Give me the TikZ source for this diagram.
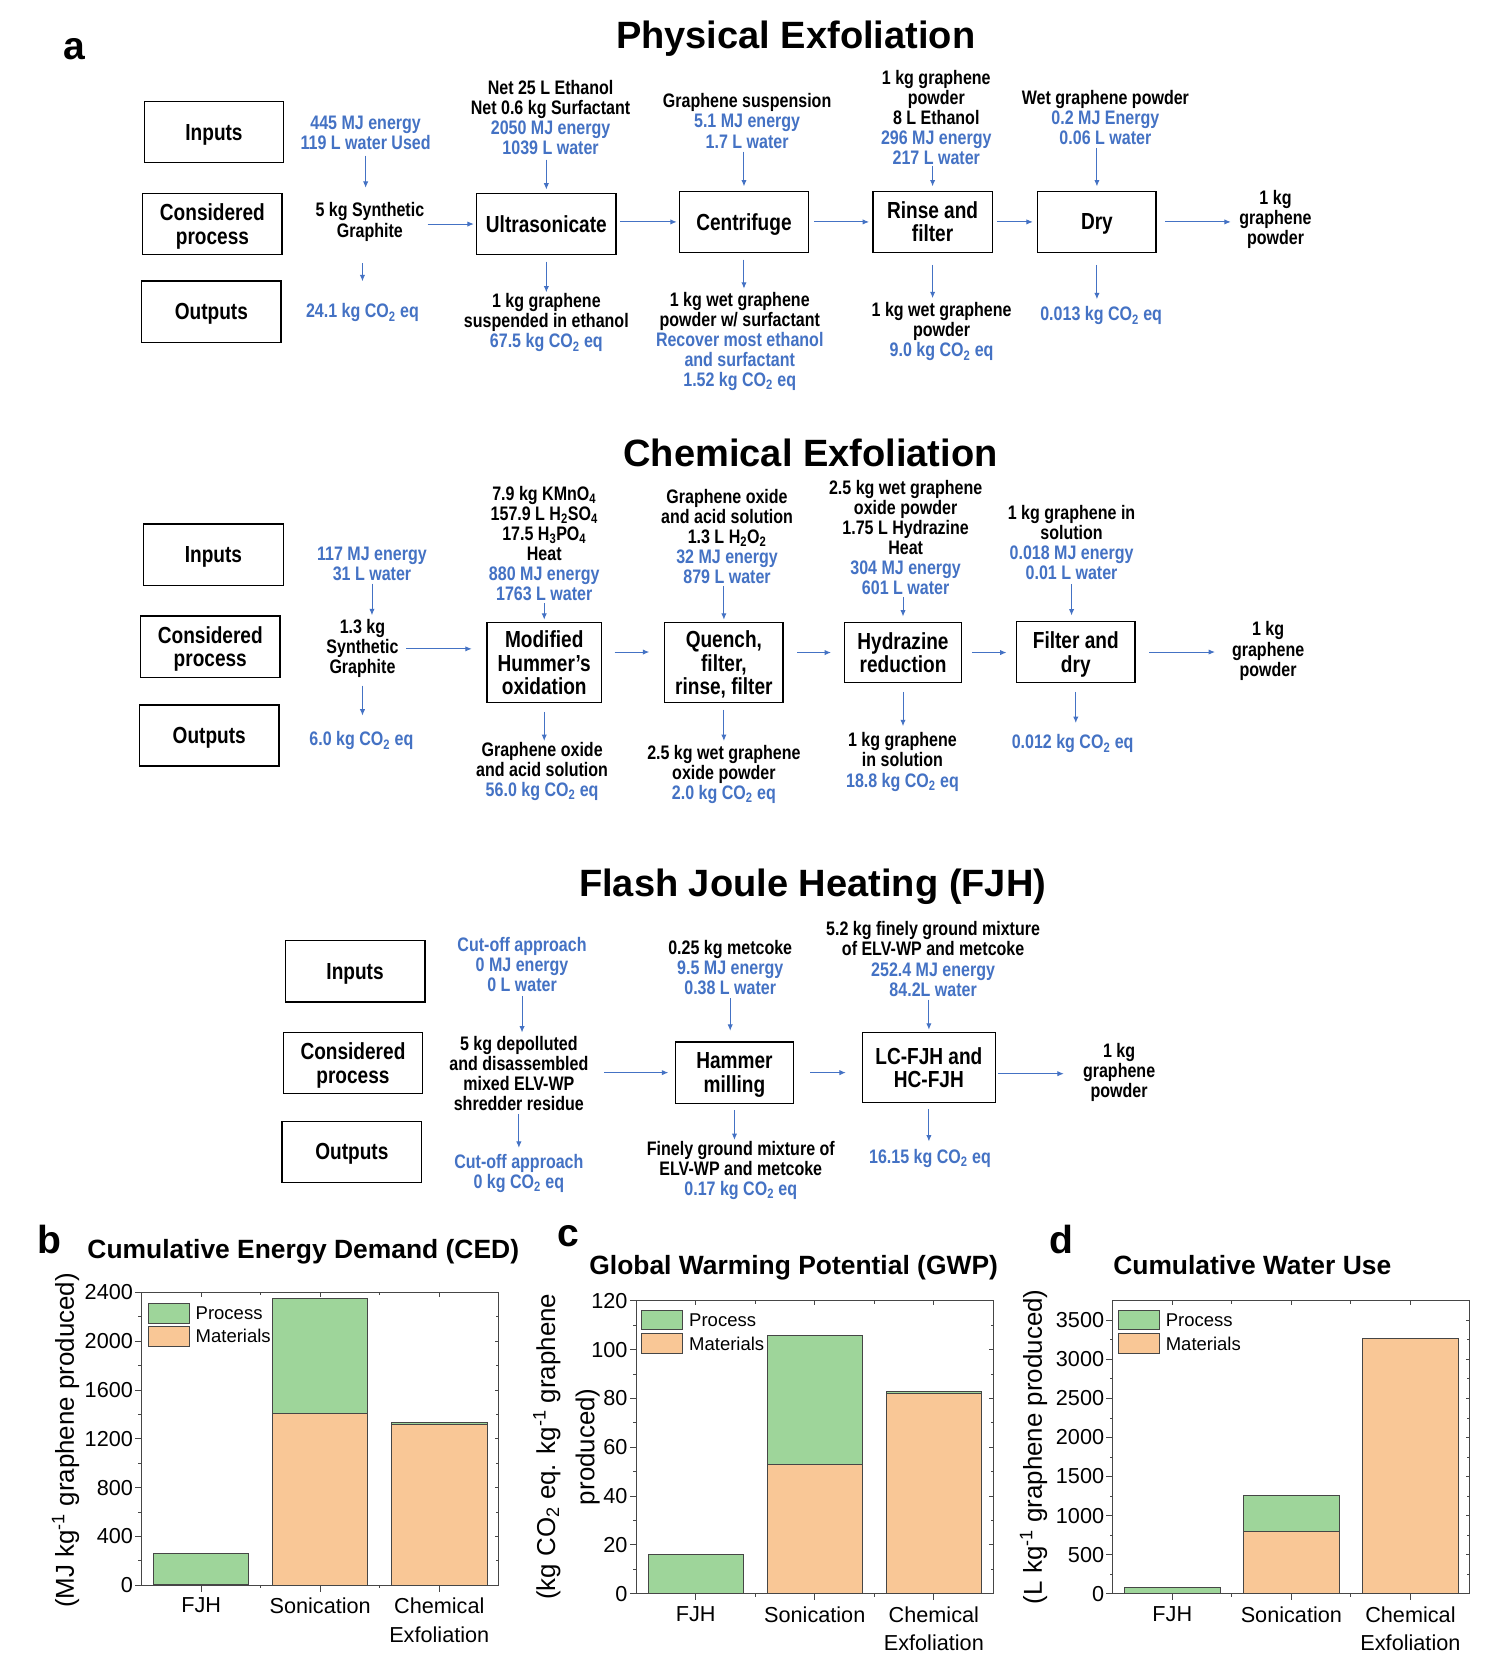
\documentclass[tikz,border=0pt]{standalone}
\usepackage{fontspec}
\setmainfont{Liberation Sans}
\newfontfamily\nb{Liberation Sans}[FakeStretch=0.82]
\usetikzlibrary{arrows.meta}
\definecolor{lblue}{RGB}{68,114,196}
\definecolor{prcg}{RGB}{158,213,154}
\definecolor{mato}{RGB}{249,199,150}
\definecolor{edgeg}{RGB}{70,70,70}
\lineskiplimit=-100pt
\tikzset{
 hd/.style={font=\bfseries\fontsize{36}{40}\selectfont, anchor=base, inner sep=0},
 pl/.style={font=\bfseries\fontsize{37}{40}\selectfont, anchor=base, inner sep=0},
 ct/.style={font=\bfseries\fontsize{25}{28}\selectfont, anchor=base, inner sep=0},
 lbox/.style={draw, line width=1.3pt, minimum width=132pt, minimum height=58pt, align=center, inner sep=0, text depth=0pt, font=\nb\bfseries\fontsize{22}{22}\selectfont},
 pbox/.style={lbox},
 ft/.style={align=center, inner sep=0, font=\nb\bfseries\fontsize{18.5}{19}\selectfont},
 bt/.style={ft, text=lblue},
 arr/.style={draw=lblue, line width=0.9pt, -{Latex[length=6pt,width=5pt]}},
 tl/.style={inner sep=0, font=\fontsize{20.5}{27}\selectfont},
 lg/.style={inner sep=0, font=\fontsize{17.5}{20}\selectfont, anchor=west},
 yl/.style={inner sep=0, font=\fontsize{24.5}{37}\selectfont},
 ax/.style={draw=edgeg, line width=0.9pt},
 mat/.style={fill=mato, draw=edgeg, line width=0.7pt},
 prc/.style={fill=prcg, draw=edgeg, line width=0.7pt},
}
\begin{document}
\begin{tikzpicture}[x=1pt,y=-1pt]
\fill[white] (0,0) rectangle (1409,1568);
\useasboundingbox (0,0) rectangle (1409,1568);

% ---------------- headings
\node[pl] (la) at (70,56) {a};
\node[hd] (h1) at (753,46) {Physical Exfoliation};
\node[hd] (h2) at (767,441) {Chemical Exfoliation};
\node[hd] (h3) at (769,848) {Flash Joule Heating (FJH)};

% ---------------- Physical exfoliation
\node[lbox, minimum width=131pt] (in1) at (202.5,125) {Inputs};
\node[lbox] (cp1) at (201,212) {Considered\\process};
\node[lbox] (ou1) at (200,295) {Outputs};
\node[pbox, minimum width=132pt] (ultra) at (517,212) {Ultrasonicate};
\node[pbox, minimum width=122pt] (centr) at (704,210) {Centrifuge};
\node[pbox, minimum width=113pt] (rinse) at (882.5,210) {Rinse and\\filter};
\node[pbox, minimum width=112pt] (dry) at (1038,210) {Dry};

\node[bt] (a0i) at (346,126) {445 MJ energy\\119 L water Used};
\node[ft] (a0g) at (350,210) {5 kg Synthetic\\Graphite};
\node[bt] (a0o) at (343,296) {24.1 kg CO\textsubscript{2} eq};
\node[ft] (a1i) at (521,111.5) {Net 25 L Ethanol\\Net 0.6 kg Surfactant\\\color{lblue}2050 MJ energy\\\color{lblue}1039 L water};
\node[ft] (a1o) at (517,305.5) {1 kg graphene\\suspended in ethanol\\\color{lblue}67.5 kg CO\textsubscript{2} eq};
\node[ft] (a2i) at (707,114.5) {Graphene suspension\\\color{lblue}5.1 MJ energy\\\color{lblue}1.7 L water};
\node[ft] (a2o) at (700,323) {1 kg wet graphene\\powder w/ surfactant\\\color{lblue}Recover most ethanol\\\color{lblue}and surfactant\\\color{lblue}1.52 kg CO\textsubscript{2} eq};
\node[ft] (a3i) at (886,111) {1 kg graphene\\powder\\8 L Ethanol\\\color{lblue}296 MJ energy\\\color{lblue}217 L water};
\node[ft] (a3o) at (891,314) {1 kg wet graphene\\powder\\\color{lblue}9.0 kg CO\textsubscript{2} eq};
\node[ft] (a4i) at (1046,111) {Wet graphene powder\\\color{lblue}0.2 MJ Energy\\\color{lblue}0.06 L water};
\node[bt] (a4o) at (1042,299) {0.013 kg CO\textsubscript{2} eq};
\node[ft] (a5) at (1207,208) {1 kg\\graphene\\powder};

\draw[arr, shorten <=5pt, shorten >=14pt] (a0i.south) -- (a0i.south |- a0g.north);
\draw[arr, shorten <=21pt, shorten >=21pt] (a0o.north |- a0g.south) -- (a0o.north);
\draw[arr, shorten <=3pt, shorten >=2pt] (a0g.east |- ultra.west) -- (ultra.west);
\draw[arr, shorten <=4pt, shorten >=3pt] (ultra.north |- a1i.south) -- (ultra.north);
\draw[arr, shorten <=6pt, shorten >=1pt] (ultra.south) -- (ultra.south |- a1o.north);
\draw[arr, shorten <=3pt, shorten >=2pt] (ultra.east |- centr.west) -- (centr.west);
\draw[arr, shorten <=3pt, shorten >=4pt] (centr.north |- a2i.south) -- (centr.north);
\draw[arr, shorten <=6pt, shorten >=3pt] (centr.south) -- (centr.south |- a2o.north);
\draw[arr, shorten <=5pt, shorten >=3pt] (centr.east) -- (rinse.west);
\draw[arr, shorten <=1pt, shorten >=4pt] (rinse.north |- a3i.south) -- (rinse.north);
\draw[arr, shorten <=11pt, shorten >=4pt] (rinse.south) -- (rinse.south |- a3o.north);
\draw[arr, shorten <=4pt, shorten >=4pt] (rinse.east) -- (dry.west);
\draw[arr, shorten <=3pt, shorten >=4pt] (dry.north |- a4i.south) -- (dry.north);
\draw[arr, shorten <=11pt, shorten >=7pt] (dry.south) -- (dry.south |- a4o.north);
\draw[arr, shorten <=8pt, shorten >=8pt] (dry.east) -- (dry.east -| a5.west);

% ---------------- Chemical exfoliation
\node[lbox] (in2) at (202,525) {Inputs};
\node[lbox] (cp2) at (199,612) {Considered\\process};
\node[lbox] (ou2) at (198,696) {Outputs};
\node[pbox, minimum width=108pt, minimum height=76pt] (hum) at (515,627) {Modified\\Hummer’s\\oxidation};
\node[pbox, minimum width=112pt, minimum height=76pt] (quen) at (685,627) {Quench,\\filter,\\rinse, filter};
\node[pbox, minimum width=111pt, minimum height=57pt] (hydr) at (854.5,617.5) {Hydrazine\\reduction};
\node[pbox, minimum width=112pt] (fdry) at (1018,617) {Filter and\\dry};

\node[bt] (b0i) at (352,534) {117 MJ energy\\31 L water};
\node[ft] (b0g) at (343,614) {1.3 kg\\Synthetic\\Graphite};
\node[bt] (b0o) at (342,701) {6.0 kg CO\textsubscript{2} eq};
\node[ft] (b1i) at (515,514.5) {7.9 kg KMnO\textsubscript{4}\\157.9 L H\textsubscript{2}SO\textsubscript{4}\\17.5 H\textsubscript{3}PO\textsubscript{4}\\Heat\\\color{lblue}880 MJ energy\\\color{lblue}1763 L water};
\node[ft] (b1o) at (513,730) {Graphene oxide\\and acid solution\\\color{lblue}56.0 kg CO\textsubscript{2} eq};
\node[ft] (b2i) at (688,507.5) {Graphene oxide\\and acid solution\\1.3 L H\textsubscript{2}O\textsubscript{2}\\\color{lblue}32 MJ energy\\\color{lblue}879 L water};
\node[ft] (b2o) at (685,733) {2.5 kg wet graphene\\oxide powder\\\color{lblue}2.0 kg CO\textsubscript{2} eq};
\node[ft] (b3i) at (857,508.5) {2.5 kg wet graphene\\oxide powder\\1.75 L Hydrazine\\Heat\\\color{lblue}304 MJ energy\\\color{lblue}601 L water};
\node[ft] (b3o) at (854,721) {1 kg graphene\\in solution\\\color{lblue}18.8 kg CO\textsubscript{2} eq};
\node[ft] (b4i) at (1014,513.5) {1 kg graphene in\\solution\\\color{lblue}0.018 MJ energy\\\color{lblue}0.01 L water};
\node[bt] (b4o) at (1015,704) {0.012 kg CO\textsubscript{2} eq};
\node[ft] (b5) at (1200,616) {1 kg\\graphene\\powder};

\draw[arr, shorten <=2pt, shorten >=4pt] (b0i.south) -- (b0i.south |- b0g.north);
\draw[arr, shorten <=7pt, shorten >=15pt] (b0g.south) -- (b0g.south |- b0o.north);
\draw[arr, shorten <=7pt, shorten >=14pt] (b0g.east) -- (b0g.east -| hum.west);
\draw[arr, shorten <=2pt, shorten >=2pt] (hum.north |- b1i.south) -- (hum.north);
\draw[arr, shorten <=8pt, shorten >=1pt] (hum.south) -- (hum.south |- b1o.north);
\draw[arr, shorten <=12pt, shorten >=14pt] ([yshift=10pt]hum.east) -- ([yshift=10pt]quen.west);
\draw[arr, shorten <=2pt, shorten >=2pt] (quen.north |- b2i.south) -- (quen.north);
\draw[arr, shorten <=6pt, shorten >=4pt] (quen.south) -- (quen.south |- b2o.north);
\draw[arr, shorten <=13pt, shorten >=12pt] (quen.east |- hydr.west) -- (hydr.west);
\draw[arr, shorten <=2pt, shorten >=5pt] (hydr.north |- b3i.south) -- (hydr.north);
\draw[arr, shorten <=8pt, shorten >=6pt] (hydr.south) -- (hydr.south |- b3o.north);
\draw[arr, shorten <=9pt, shorten >=9pt] (hydr.east) -- (hydr.east -| fdry.west);
\draw[arr, shorten <=4pt, shorten >=5pt] (b4i.south) -- (b4i.south |- fdry.north);
\draw[arr, shorten <=8pt, shorten >=11pt] (fdry.south) -- (fdry.south |- b4o.north);
\draw[arr, shorten <=13pt, shorten >=16pt] (fdry.east) -- (fdry.east -| b5.west);

% ---------------- FJH
\node[lbox] (in3) at (336,919) {Inputs};
\node[lbox] (cp3) at (334,1006) {Considered\\process};
\node[lbox] (ou3) at (333,1090) {Outputs};
\node[pbox, minimum width=112pt] (ham) at (695,1015) {Hammer\\milling};
\node[pbox, minimum width=126pt, minimum height=66pt] (lcf) at (879,1010) {LC-FJH and\\HC-FJH};

\node[bt] (c0i) at (494,912.5) {Cut-off approach\\0 MJ energy\\0 L water};
\node[ft] (c0g) at (491,1015.5) {5 kg depolluted\\and disassembled\\mixed ELV-WP\\shredder residue};
\node[bt] (c0o) at (491,1110.5) {Cut-off approach\\0 kg CO\textsubscript{2} eq};
\node[ft] (c1i) at (691,915.5) {0.25 kg metcoke\\\color{lblue}9.5 MJ energy\\\color{lblue}0.38 L water};
\node[ft] (c1o) at (701,1107.5) {Finely ground mixture of\\ELV-WP and metcoke\\\color{lblue}0.17 kg CO\textsubscript{2} eq};
\node[ft] (c2i) at (883,907.5) {5.2 kg finely ground mixture\\of ELV-WP and metcoke\\\color{lblue}252.4 MJ energy\\\color{lblue}84.2L water};
\node[bt] (c2o) at (880,1096) {16.15 kg CO\textsubscript{2} eq};
\node[ft] (c3) at (1059,1015) {1 kg\\graphene\\powder};

\draw[arr, shorten <=4pt, shorten >=3pt] (c0i.south) -- (c0i.south |- c0g.north);
\draw[arr, shorten <=3pt, shorten >=6pt] (c0g.south) -- (c0g.south |- c0o.north);
\draw[arr, shorten <=15pt, shorten >=6pt] (c0g.east |- ham.west) -- (ham.west);
\draw[arr, shorten <=3pt, shorten >=10pt] (c1i.south) -- (c1i.south |- ham.north);
\draw[arr, shorten <=6pt, shorten >=1pt] (ham.south) -- (ham.south |- c1o.north);
\draw[arr, shorten <=15pt, shorten >=15pt] (ham.east) -- (ham.east -| lcf.west);
\draw[arr, shorten <=3pt, shorten >=2pt] (lcf.north |- c2i.south) -- (lcf.north);
\draw[arr, shorten <=6pt, shorten >=7pt] (lcf.south) -- (lcf.south |- c2o.north);
\draw[arr, shorten <=2pt, shorten >=18pt] ([yshift=-6pt]lcf.east) -- ([yshift=-6pt]lcf.east -| c3.west);

% ---------------- Chart b
\node[pl] (lb) at (47,1186) {b};
\node[ct] (tb) at (287,1191) {Cumulative Energy Demand (CED)};
\node[yl, rotate=90] (yb) at (62,1363) {(MJ kg\textsuperscript{-1} graphene produced)};
\begin{scope}[shift={(134,1500)}, x=112.667pt, y=0.115417pt]
\filldraw[mat] (0.1,0) rectangle (0.9,8);
\filldraw[prc] (0.1,8) rectangle (0.9,262);
\filldraw[mat] (1.1,0) rectangle (1.9,1410);
\filldraw[prc] (1.1,1410) rectangle (1.9,2350);
\filldraw[mat] (2.1,0) rectangle (2.9,1320);
\filldraw[prc] (2.1,1320) rectangle (2.9,1332);
\draw[ax] (0,0) rectangle (3,2400);
\foreach \v in {0,400,...,2400} {
  \draw[ax] (0,\v) -- ++(-6pt,0);
  \draw[ax] (3,\v) -- ++(-4pt,0);
  \node[tl, anchor=east] (nb\v) at ([xshift=-8pt]0,\v) {\v};
}
\foreach \v in {200,600,...,2200} {
  \draw[ax] (0,\v) -- ++(-3pt,0);
  \draw[ax] (3,\v) -- ++(-2.5pt,0);
}
\foreach \c in {0.5,1.5,2.5} {
  \draw[ax] (\c,0) -- ++(0,-6pt);
  \draw[ax] (\c,2400) -- ++(0,-4pt);
}
\foreach \c in {1,2} {
  \draw[ax] (\c,0) -- ++(0,-3pt);
  \draw[ax] (\c,2400) -- ++(0,-2.5pt);
}
\node[tl, anchor=north] (bxa) at ([yshift=-12pt]0.5,0) {FJH};
\node[tl, anchor=north] (bxb) at ([yshift=-12pt]1.5,0) {Sonication};
\node[tl, anchor=north, align=center] (bxc) at ([yshift=-12pt]2.5,0) {Chemical\\Exfoliation};
\end{scope}
\filldraw[prc] (140,1233) rectangle (179,1252);
\filldraw[mat] (140,1255) rectangle (179,1274);
\node[lg] (lgb1) at (185,1242.5) {Process};
\node[lg] (lgb2) at (185,1264.5) {Materials};

% ---------------- Chart c
\node[pl] (lc) at (538,1180) {c};
\node[ct] (tc) at (751,1206) {Global Warming Potential (GWP)};
\node[yl, rotate=90, align=center] (yc) at (536,1369) {(kg CO\textsubscript{2} eq. kg\textsuperscript{-1} graphene\\produced)};
\begin{scope}[shift={(602,1508)}, x=112.667pt, y=2.30833pt]
\filldraw[prc] (0.1,0) rectangle (0.9,16);
\filldraw[mat] (1.1,0) rectangle (1.9,53);
\filldraw[prc] (1.1,53) rectangle (1.9,106);
\filldraw[mat] (2.1,0) rectangle (2.9,82);
\filldraw[prc] (2.1,82) rectangle (2.9,83);
\draw[ax] (0,0) rectangle (3,120);
\foreach \v in {0,20,...,120} {
  \draw[ax] (0,\v) -- ++(-6pt,0);
  \draw[ax] (3,\v) -- ++(-4pt,0);
  \node[tl, anchor=east] (nc\v) at ([xshift=-8pt]0,\v) {\v};
}
\foreach \v in {10,30,...,110} {
  \draw[ax] (0,\v) -- ++(-3pt,0);
  \draw[ax] (3,\v) -- ++(-2.5pt,0);
}
\foreach \c in {0.5,1.5,2.5} {
  \draw[ax] (\c,0) -- ++(0,-6pt);
  \draw[ax] (\c,120) -- ++(0,-4pt);
}
\foreach \c in {1,2} {
  \draw[ax] (\c,0) -- ++(0,-3pt);
  \draw[ax] (\c,120) -- ++(0,-2.5pt);
}
\node[tl, anchor=north] (cxa) at ([yshift=-12pt]0.5,0) {FJH};
\node[tl, anchor=north] (cxb) at ([yshift=-12pt]1.5,0) {Sonication};
\node[tl, anchor=north, align=center] (cxc) at ([yshift=-12pt]2.5,0) {Chemical\\Exfoliation};
\end{scope}
\filldraw[prc] (607,1240) rectangle (646,1258);
\filldraw[mat] (607,1262) rectangle (646,1281);
\node[lg] (lgc1) at (652,1249) {Process};
\node[lg] (lgc2) at (652,1271.5) {Materials};

% ---------------- Chart d
\node[pl] (ld) at (1004,1186) {d};
\node[ct] (td) at (1185,1206) {Cumulative Water Use};
\node[yl, rotate=90] (yd) at (978,1369) {(L kg\textsuperscript{-1} graphene produced)};
\begin{scope}[shift={(1053,1508)}, x=112.667pt, y=0.0738667pt]
\filldraw[prc] (0.1,0) rectangle (0.9,85);
\filldraw[mat] (1.1,0) rectangle (1.9,800);
\filldraw[prc] (1.1,800) rectangle (1.9,1260);
\filldraw[mat] (2.1,0) rectangle (2.9,3270);
\draw[ax] (0,0) rectangle (3,3750);
\foreach \v in {0,500,...,3500} {
  \draw[ax] (0,\v) -- ++(-6pt,0);
  \draw[ax] (3,\v) -- ++(-4pt,0);
  \node[tl, anchor=east] (nd\v) at ([xshift=-8pt]0,\v) {\v};
}
\foreach \v in {250,750,...,3250} {
  \draw[ax] (0,\v) -- ++(-3pt,0);
  \draw[ax] (3,\v) -- ++(-2.5pt,0);
}
\foreach \c in {0.5,1.5,2.5} {
  \draw[ax] (\c,0) -- ++(0,-6pt);
  \draw[ax] (\c,3750) -- ++(0,-4pt);
}
\foreach \c in {1,2} {
  \draw[ax] (\c,0) -- ++(0,-3pt);
  \draw[ax] (\c,3750) -- ++(0,-2.5pt);
}
\node[tl, anchor=north] (dxa) at ([yshift=-12pt]0.5,0) {FJH};
\node[tl, anchor=north] (dxb) at ([yshift=-12pt]1.5,0) {Sonication};
\node[tl, anchor=north, align=center] (dxc) at ([yshift=-12pt]2.5,0) {Chemical\\Exfoliation};
\end{scope}
\filldraw[prc] (1058,1240) rectangle (1097,1258);
\filldraw[mat] (1058,1262) rectangle (1097,1281);
\node[lg] (lgd1) at (1103,1249) {Process};
\node[lg] (lgd2) at (1103,1271.5) {Materials};
\end{tikzpicture}
\end{document}
